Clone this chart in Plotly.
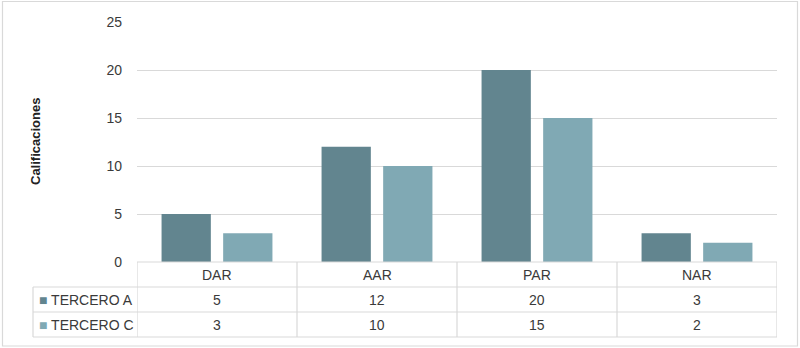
import plotly.graph_objects as go

categories = ["DAR", "AAR", "PAR", "NAR"]
series_names = ["TERCERO A", "TERCERO C"]
tercero_a = [5, 12, 20, 3]
tercero_c = [3, 10, 15, 2]
y_ticks = [0, 5, 10, 15, 20, 25]
colors = ["#62858f", "#80a9b4"]
y_title = "Calificaciones"

W, H = 800, 348
L, R, T, B = 137, 23, 22, 86
pw, ph = W - L - R, H - T - B

def px_x(x):
    return (x - L) / pw

def px_y(y):
    return (H - B - y) / ph

font_family = "Liberation Sans, Arial, sans-serif"
text_color = "#3a3a3a"
line_color = "#d9d9d9"

fig = go.Figure()
for name, vals, col in zip(series_names, [tercero_a, tercero_c], colors):
    fig.add_trace(go.Bar(x=categories, y=vals, name=name, marker=dict(color=col, line=dict(width=0))))

shapes = []
annotations = []
# outer frame
shapes.append(dict(type="rect", xref="paper", yref="paper", x0=px_x(2.5), x1=px_x(797.5), y0=px_y(346), y1=px_y(1.5),
                   line=dict(color=line_color, width=1.2), layer="below"))
row_tops = [262, 287, 312, 337]
# horizontal table lines
shapes.append(dict(type="line", xref="paper", yref="paper", x0=0, x1=1, y0=px_y(262), y1=px_y(262), line=dict(color=line_color, width=1.2)))
for ry in row_tops[1:]:
    shapes.append(dict(type="line", xref="paper", yref="paper", x0=px_x(33), x1=1, y0=px_y(ry), y1=px_y(ry), line=dict(color=line_color, width=1.2)))
# vertical table lines
for i in range(len(categories) + 1):
    shapes.append(dict(type="line", xref="x", yref="paper", x0=i - 0.5, x1=i - 0.5, y0=px_y(262), y1=px_y(337), line=dict(color=line_color, width=1.2)))
shapes.append(dict(type="line", xref="paper", yref="paper", x0=px_x(33), x1=px_x(33), y0=px_y(287), y1=px_y(337), line=dict(color=line_color, width=1.2)))

fnt = dict(family=font_family, size=14, color=text_color)
# header
for c in categories:
    annotations.append(dict(x=c, y=px_y(274.5), xref="x", yref="paper", text=c, showarrow=False, font=fnt, xanchor="center", yanchor="middle"))
for r, (name, vals, col) in enumerate(zip(series_names, [tercero_a, tercero_c], colors)):
    yc = px_y(299.5 + 25 * r)
    annotations.append(dict(x=px_x(37), y=yc, xref="paper", yref="paper", text=f"<span style='color:{col}'>■</span> {name}",
                            showarrow=False, font=fnt, xanchor="left", yanchor="middle"))
    for c, v in zip(categories, vals):
        annotations.append(dict(x=c, y=yc, xref="x", yref="paper", text=str(v), showarrow=False, font=fnt, xanchor="center", yanchor="middle"))

annotations.append(dict(x=px_x(35), y=0.5, xref="paper", yref="paper", text=f"<b>{y_title}</b>", textangle=-90, showarrow=False,
                        font=dict(family=font_family, size=13, color="#222222"), xanchor="center", yanchor="middle"))

fig.update_layout(
    width=W, height=H,
    margin=dict(l=L, r=R, t=T, b=B, pad=0),
    paper_bgcolor="white", plot_bgcolor="white",
    barmode="group", bargap=0.23, bargroupgap=0.2,
    showlegend=False,
    font=fnt,
    shapes=shapes, annotations=annotations,
    xaxis=dict(showticklabels=False, showgrid=False, zeroline=False, showline=False, ticks="", range=[-0.5, 3.5], fixedrange=True),
    yaxis=dict(range=[0, 25], tickvals=y_ticks, showgrid=True, gridcolor=line_color, gridwidth=1.2, zeroline=False,
               showline=False, ticks="", ticklabelstandoff=14, tickfont=fnt, fixedrange=True),
)

fig.write_html("out.html", config={"displayModeBar": False},
               post_script="document.body.style.margin='0';document.body.style.overflow='hidden';")
